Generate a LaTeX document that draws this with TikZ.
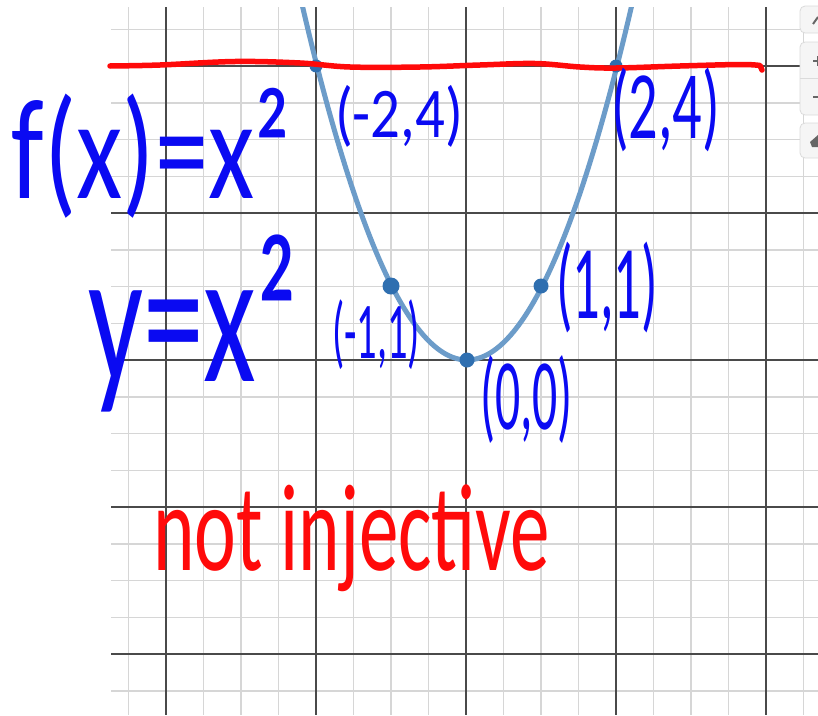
\documentclass[tikz,border=0pt]{standalone}
\usepackage{fontspec}
\setmainfont{Carlito}
\usepackage{graphicx}
\definecolor{ink}{HTML}{0A0AF2}
\definecolor{redink}{HTML}{FF0A0A}
\definecolor{curveblue}{HTML}{6C9CC9}
\definecolor{dotblue}{HTML}{2F6FB0}
\definecolor{minorgrid}{HTML}{D6D6D6}
\definecolor{majorgrid}{HTML}{4A4A4A}
\newcommand\handfit[3]{\resizebox*{#1pt}{#2pt}{#3}}
\tikzset{
  minorline/.style={draw=minorgrid, line width=1.5pt},
  majorline/.style={draw=majorgrid, line width=1.3pt},
  parabola/.style={draw=curveblue, line width=5pt},
  ptdot/.style={circle, fill=dotblue, inner sep=0pt, minimum size=15pt},
  hand/.style={inner sep=0pt, outer sep=0pt, anchor=north west, text=ink},
  redhand/.style={inner sep=0pt, outer sep=0pt, anchor=north west, text=redink},
  redstroke/.style={draw=redink, line width=5.5pt, line cap=round, line join=round},
  panel/.style={draw=black!14, fill=black!4, rounded corners=5pt, line width=0.8pt},
  icon/.style={draw=black!60, line width=2pt}
}
\begin{document}
\begin{tikzpicture}[x=1pt, y=-1pt]
\useasboundingbox (0,0) rectangle (818,715);
\fill[white] (0,0) rectangle (818,715);
% grid
\begin{scope}
  \clip (111,7) rectangle (818,715);
  \foreach \i in {0,...,18} {
    \draw[minorline] ({128.5+37.5*\i},7) -- ({128.5+37.5*\i},715);
    \draw[minorline] (111,{29.25+36.75*\i}) -- (818,{29.25+36.75*\i});
  }
  \foreach \i in {1,5,9,13,17} {
    \draw[majorline] ({128.5+37.5*\i},7) -- ({128.5+37.5*\i},715);
    \draw[majorline] (111,{29.25+36.75*\i}) -- (818,{29.25+36.75*\i});
  }
  % parabola y = x^2
  \draw[parabola] plot[domain=-2.22:2.22, samples=120] ({467+75*\x},{360-73.5*\x*\x});
\end{scope}
% points
\node[ptdot, minimum size=13pt] (pm2) at (316,66) {};
\node[ptdot, minimum size=13pt] (pp2) at (616,66) {};
\node[ptdot, minimum size=17pt] (pm1) at (391,286) {};
\node[ptdot] (pp1) at (541,286) {};
\node[ptdot] (p0) at (467,360) {};
% desmos side buttons
\draw[panel] (800,6) rectangle (840,33);
\draw[panel] (800,42) rectangle (840,115);
\draw[black!14, line width=0.8pt] (800,78) -- (818,78);
\draw[panel] (800,123) rectangle (840,158);
\draw[icon] (813,24) -- (818,17);
\draw[icon] (813,61) -- (818,61);
\draw[icon] (818,56) -- (818,66);
\draw[icon] (813,97) -- (818,97);
\fill[black!60] (810,142) -- (818,135) -- (818,147) -- (812,147) -- cycle;
% red horizontal line y = 4
\draw[redstroke] plot[smooth, tension=0.6] coordinates {(110,66) (160,65) (235,61.5) (300,63) (350,67) (420,67) (480,65) (535,63.5) (580,67) (616,68) (680,66) (740,64.5) (760,65.5)} -- (762,70);
% handwritten labels
\node[hand] (fx) at (12,88) {\handfit{278}{130}{f(x)=x²}};
\node[hand] (yx) at (88,235) {\handfit{209}{177}{y=x²}};
\node[hand] (lm2) at (335,85) {\handfit{128}{62}{(-2,4)}};
\node[hand] (lp2) at (611,68) {\handfit{109}{84}{(2,4)}};
\node[hand] (lp1) at (556,242) {\handfit{102}{91}{(1,1)}};
\node[hand] (lm1) at (332,300) {\handfit{88}{70}{(-1,1)}};
\node[hand] (l0) at (480,355) {\handfit{93}{88}{(0,0)}};
\node[redhand] (inj) at (153,485) {\handfit{397}{107}{not injective}};
\end{tikzpicture}
\end{document}
